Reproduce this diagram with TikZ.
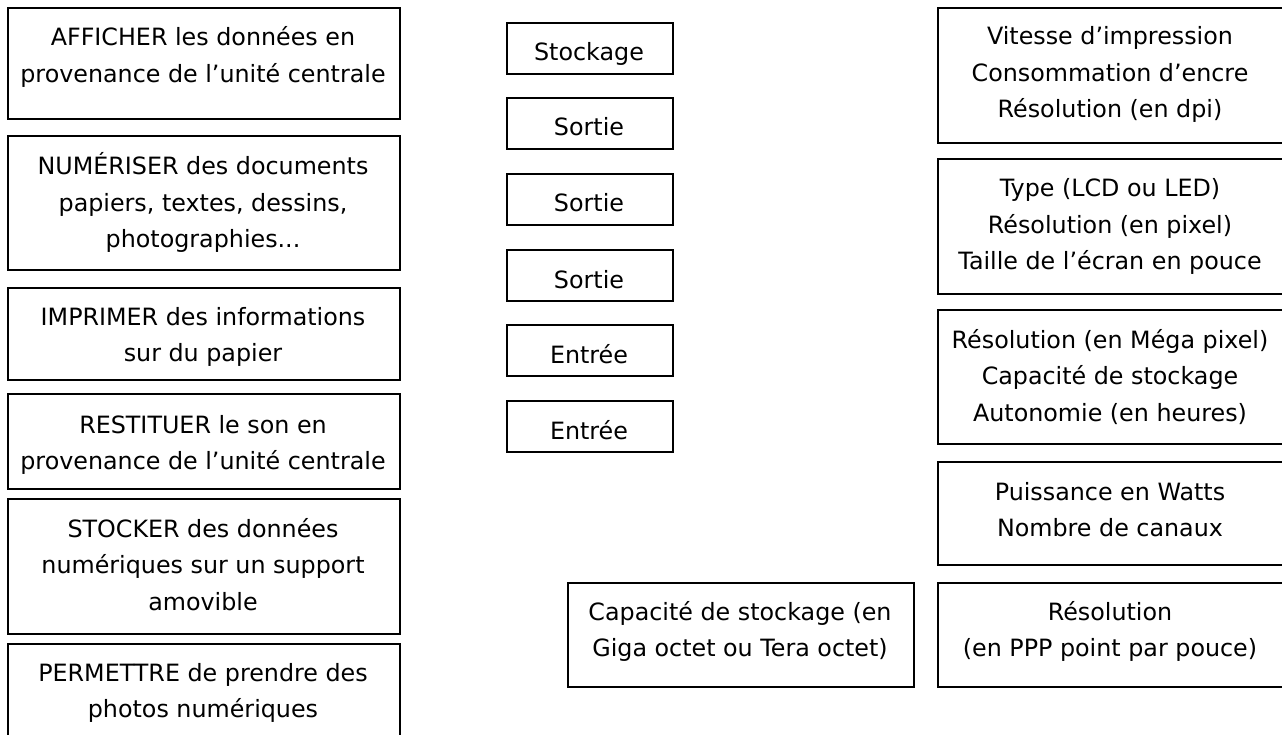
\documentclass[tikz,border=0pt]{standalone}
\usepackage{fontspec}
\setmainfont{DejaVu Sans}
\setlength{\tabcolsep}{0pt}
\begin{document}
\begin{tikzpicture}[x=1pt,y=-1pt]
\tikzset{
  box/.style={draw=black, line width=1.8pt, inner sep=0pt, anchor=north west},
  lbl/.style={inner sep=0pt, anchor=base, font=\fontsize{23.8}{36.5}\selectfont},
}
\useasboundingbox (0,0) rectangle (1282,735);
\clip (0,0) rectangle (1282,735);
% left column
\node[box, minimum width=392pt, minimum height=111pt] (l1) at (7,7) {};
\node[box, minimum width=392pt, minimum height=134pt] (l2) at (7,135) {};
\node[box, minimum width=392pt, minimum height=92pt]  (l3) at (7,287) {};
\node[box, minimum width=392pt, minimum height=95pt]  (l4) at (7,393) {};
\node[box, minimum width=392pt, minimum height=135pt] (l5) at (7,498) {};
\node[box, minimum width=392pt, minimum height=120pt] (l6) at (7,643) {};
\node[lbl] (l1t) at (203,46) {\begin{tabular}[t]{c}AFFICHER les données en\\provenance de l’unité centrale\end{tabular}};
\node[lbl] (l2t) at (203,175) {\begin{tabular}[t]{c}NUMÉRISER des documents\\papiers, textes, dessins,\\photographies...\end{tabular}};
\node[lbl] (l3t) at (203,325) {\begin{tabular}[t]{c}IMPRIMER des informations\\sur du papier\end{tabular}};
\node[lbl] (l4t) at (203,433) {\begin{tabular}[t]{c}RESTITUER le son en\\provenance de l’unité centrale\end{tabular}};
\node[lbl] (l5t) at (203,537) {\begin{tabular}[t]{c}STOCKER des données\\numériques sur un support\\amovible\end{tabular}};
\node[lbl] (l6t) at (203,681) {\begin{tabular}[t]{c}PERMETTRE de prendre des\\photos numériques\end{tabular}};
% middle column
\node[box, minimum width=166pt, minimum height=51pt] (m1) at (506,22) {};
\node[box, minimum width=166pt, minimum height=51pt] (m2) at (506,97) {};
\node[box, minimum width=166pt, minimum height=51pt] (m3) at (506,173) {};
\node[box, minimum width=166pt, minimum height=51pt] (m4) at (506,249) {};
\node[box, minimum width=166pt, minimum height=51pt] (m5) at (506,324) {};
\node[box, minimum width=166pt, minimum height=51pt] (m6) at (506,400) {};
\node[lbl] (m1t) at (589,61) {Stockage};
\node[lbl] (m2t) at (589,136) {Sortie};
\node[lbl] (m3t) at (589,212) {Sortie};
\node[lbl] (m4t) at (589,288) {Sortie};
\node[lbl] (m5t) at (589,363) {Entrée};
\node[lbl] (m6t) at (589,439) {Entrée};
% right column
\node[box, minimum width=360pt, minimum height=135pt] (r1) at (937,7) {};
\node[box, minimum width=360pt, minimum height=135pt] (r2) at (937,158) {};
\node[box, minimum width=360pt, minimum height=134pt] (r3) at (937,309) {};
\node[box, minimum width=360pt, minimum height=103pt] (r4) at (937,461) {};
\node[box, minimum width=360pt, minimum height=104pt] (r5) at (937,582) {};
\node[box, minimum width=346pt, minimum height=104pt] (b1) at (567,582) {};
\node[lbl] (r1t) at (1110,45) {\begin{tabular}[t]{c}Vitesse d’impression\\Consommation d’encre\\Résolution (en dpi)\end{tabular}};
\node[lbl] (r2t) at (1110,197) {\begin{tabular}[t]{c}Type (LCD ou LED)\\Résolution (en pixel)\\Taille de l’écran en pouce\end{tabular}};
\node[lbl] (r3t) at (1110,348) {\begin{tabular}[t]{c}Résolution (en Méga pixel)\\Capacité de stockage\\Autonomie (en heures)\end{tabular}};
\node[lbl] (r4t) at (1110,500) {\begin{tabular}[t]{c}Puissance en Watts\\Nombre de canaux\end{tabular}};
\node[lbl] (r5t) at (1110,620) {\begin{tabular}[t]{c}Résolution\\(en PPP point par pouce)\end{tabular}};
\node[lbl] (b1t) at (740,620) {\begin{tabular}[t]{c}Capacité de stockage (en\\Giga octet ou Tera octet)\end{tabular}};
\end{tikzpicture}
\end{document}
